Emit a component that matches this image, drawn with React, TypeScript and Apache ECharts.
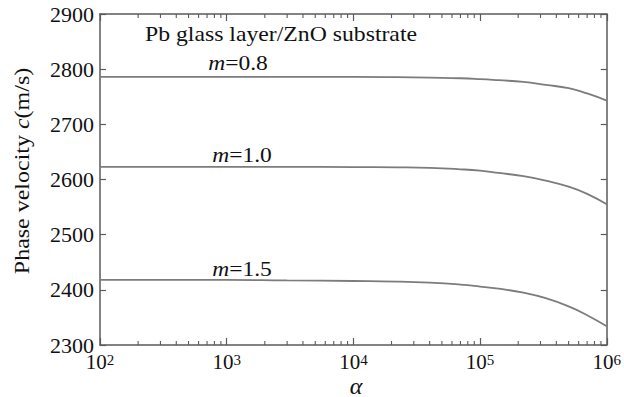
import React, { useEffect, useRef } from "react";
import * as echarts from "echarts";

const alpha = [100, 1000, 3000, 10000, 22000, 40000, 70000, 100000, 140000, 220000, 330000, 500000, 700000, 1000000];
const m08 = [2786, 2786, 2786, 2786, 2785.5, 2784.5, 2783.5, 2782, 2780, 2777, 2771.5, 2765.5, 2756, 2743];
const m10 = [2623, 2623, 2623, 2622.5, 2622, 2621, 2618.5, 2616, 2612, 2606, 2598, 2587, 2574, 2555];
const m15 = [2418, 2418, 2417, 2416, 2415, 2413, 2409.5, 2406, 2402, 2395, 2385, 2370, 2354, 2334];
const seriesNames = ["m=0.8", "m=1.0", "m=1.5"];
const yMin = 2300;
const yMax = 2900;
const yStep = 100;
const xMin = 100;
const xMax = 1000000;
const minorMultipliers = [2, 3, 4, 5, 6, 7, 8, 9];
const minorDecades = [100, 1000, 10000, 100000];

const FONT = "Liberation Serif";
const LINE = "#7c7c7c";
const AXIS = "#5a5a5a";
const INK = "#111";

export default function App() {
  const ref = useRef<HTMLDivElement>(null);
  useEffect(() => {
    const chart = echarts.init(ref.current!, null, { renderer: "svg" });
    const mk = (vals: number[]) => alpha.map((a, i) => [a, vals[i]]);
    const minorTicks: number[][] = [];
    minorDecades.forEach((d) => minorMultipliers.forEach((m) => minorTicks.push([d * m])));

    const xBase = {
      type: "log" as const,
      logBase: 10,
      min: xMin,
      max: xMax,
      axisLine: { show: true, onZero: false, lineStyle: { color: AXIS, width: 1.5 } },
      axisTick: { show: true, inside: true, length: 7, lineStyle: { color: AXIS, width: 1.2 } },
      splitLine: { show: false },
      minorTick: { show: false },
    };
    const yBase = {
      type: "value" as const,
      min: yMin,
      max: yMax,
      interval: yStep,
      axisLine: { show: true, onZero: false, lineStyle: { color: AXIS, width: 1.5 } },
      axisTick: { show: true, inside: true, length: 6, lineStyle: { color: AXIS, width: 1.2 } },
      splitLine: { show: false },
    };

    const rich = (size: number) => ({
      i: { fontSize: size, fontFamily: FONT, fontStyle: "italic", fill: INK },
      n: { fontSize: size, fontFamily: FONT, fill: INK },
    });

    chart.setOption({
      animation: false,
      backgroundColor: "#ffffff",
      grid: { left: 100, right: 13, top: 14, bottom: 52, containLabel: false },
      xAxis: [
        {
          ...xBase,
          position: "bottom",
          axisLabel: {
            show: true,
            margin: 7,
            formatter: (v: number) => `{b|10}{s|${Math.round(Math.log10(v))}}`,
            rich: {
              b: { fontSize: 21, fontFamily: FONT, color: INK, lineHeight: 20, verticalAlign: "bottom" },
              s: { fontSize: 15, fontFamily: FONT, color: INK, verticalAlign: "top", lineHeight: 4 },
            },
          },
        },
        { ...xBase, position: "top", axisLabel: { show: false } },
      ],
      yAxis: [
        {
          ...yBase,
          position: "left",
          axisLabel: {
            show: true,
            margin: 6,
            fontSize: 22,
            lineHeight: 14,
            fontFamily: FONT,
            color: INK,
            formatter: (v: number) => String(v),
          },
        },
        { ...yBase, position: "right", axisLabel: { show: false } },
      ],
      series: [
        ...[m08, m10, m15].map((vals, i) => ({
          name: seriesNames[i],
          type: "line",
          xAxisIndex: 0,
          yAxisIndex: 0,
          data: mk(vals),
          smooth: 0.5,
          showSymbol: false,
          symbol: "none",
          lineStyle: { color: LINE, width: 1.8 },
        })),
        {
          type: "custom",
          xAxisIndex: 0,
          yAxisIndex: 0,
          data: minorTicks,
          silent: true,
          renderItem: (_p: any, api: any) => {
            const x = api.value(0);
            const b = api.coord([x, yMin]);
            const t = api.coord([x, yMax]);
            const st = { stroke: AXIS, lineWidth: 1.1 };
            return {
              type: "group",
              children: [
                { type: "line", shape: { x1: b[0], y1: b[1], x2: b[0], y2: b[1] - 4 }, style: st },
                { type: "line", shape: { x1: t[0], y1: t[1], x2: t[0], y2: t[1] + 4 }, style: st },
              ],
            };
          },
        },
      ],
      graphic: [
        {
          type: "text",
          x: 281,
          y: 34,
          scaleX: 1.13,
          style: {
            text: "Pb glass layer/ZnO substrate",
            fontSize: 21,
            fontFamily: FONT,
            fill: INK,
            align: "center",
            verticalAlign: "middle",
          },
        },
        ...[
          { x: 238, y: 63, t: "0.8" },
          { x: 242, y: 155, t: "1.0" },
          { x: 242, y: 269, t: "1.5" },
        ].map((l) => ({
          type: "text",
          x: l.x,
          y: l.y,
          scaleX: 1.12,
          style: {
            text: `{i|m}{n|=${l.t}}`,
            align: "center",
            verticalAlign: "middle",
            rich: rich(21),
          },
        })),
        {
          type: "text",
          x: 21,
          y: 171,
          rotation: Math.PI / 2,
          scaleX: 1.09,
          style: {
            text: "{n|Phase velocity }{i|c}{n|(m/s)}",
            align: "center",
            verticalAlign: "middle",
            rich: rich(22),
          },
        },
        {
          type: "text",
          x: 356,
          y: 386,
          style: {
            text: "α",
            fontSize: 24,
            lineHeight: 19,
            fontFamily: FONT,
            fontStyle: "italic",
            fill: INK,
            align: "center",
            verticalAlign: "middle",
          },
        },
      ],
    });
    return () => chart.dispose();
  }, []);
  return <div ref={ref} style={{ position: "fixed", left: 0, top: 0, width: 624, height: 397 }} />;
}
